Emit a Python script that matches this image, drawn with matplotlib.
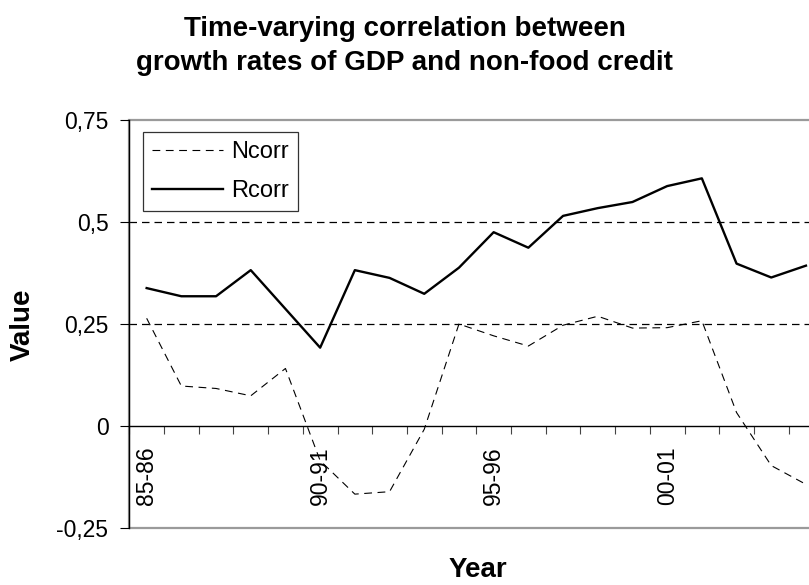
import numpy as np
import matplotlib
matplotlib.use("Agg")
import matplotlib.pyplot as plt
from matplotlib.patches import Rectangle

plt.rcParams['font.family'] = ['Liberation Sans', 'DejaVu Sans']

# fiscal years 85-86 .. 04-05
years = [f"{y % 100:02d}-{(y + 1) % 100:02d}" for y in range(1985, 2005)]

ncorr = [0.264, 0.098, 0.092, 0.074, 0.141, -0.085, -0.167, -0.161, -0.008, 0.250,
         0.221, 0.196, 0.247, 0.269, 0.240, 0.241, 0.258, 0.033, -0.097, -0.143]
rcorr = [0.338, 0.318, 0.318, 0.382, 0.287, 0.192, 0.382, 0.363, 0.324, 0.388,
         0.475, 0.437, 0.515, 0.534, 0.549, 0.588, 0.607, 0.398, 0.364, 0.393]

yticks = [-0.25, 0, 0.25, 0.5, 0.75]
ytick_labels = ['-0,25', '0', '0,25', '0,5', '0,75']

W, H = 809, 585
fig = plt.figure(figsize=(W / 100, H / 100), dpi=100)
# plot area runs a bit past the right edge of the figure
left, right, top, bottom = 129.3, 823.3, 120, 528
ax = fig.add_axes([left / W, 1 - bottom / H, (right - left) / W, (bottom - top) / H])

x = np.arange(len(years)) + 0.5
ax.plot(x, ncorr, color='black', lw=0.8, ls=(0, (7, 5)), label='Ncorr')
ax.plot(x, rcorr, color='black', lw=1.7, label='Rcorr')

ax.set_xlim(0, len(years))
ax.set_ylim(-0.25, 0.75)

# dashed gridlines
for g in [0.25, 0.5]:
    ax.axhline(g, color='black', lw=0.9, ls=(0, (6, 4)), zorder=0)

# gray plot-area border
ax.add_patch(Rectangle((0, 0), 1, 1, transform=ax.transAxes, fill=False,
                       edgecolor='#9a9a9a', lw=1.6, clip_on=False, zorder=1))
for s in ['top', 'right']:
    ax.spines[s].set_visible(False)
ax.spines['left'].set_color('black')
ax.spines['left'].set_linewidth(1.0)
ax.spines['left'].set_zorder(3)
ax.spines['bottom'].set_position(('data', 0))
ax.spines['bottom'].set_color('black')
ax.spines['bottom'].set_linewidth(1.0)

ax.set_yticks(yticks)
ax.set_yticklabels(ytick_labels, fontsize=16.5)
ax.tick_params(axis='y', direction='out', length=6.5, width=0.8, pad=8.5)

ax.set_xticks(np.arange(len(years) + 1))
ax.set_xticklabels([])
ax.tick_params(axis='x', which='major', direction='out', length=5.5, width=0.8,
               color='#444444')
ax.set_xticks(x[::5], minor=True)
ax.set_xticklabels(years[::5], minor=True, rotation=90, fontsize=16.5, va='top')
ax.tick_params(axis='x', which='minor', length=0, pad=15)

leg = ax.legend(loc='upper left', bbox_to_anchor=(0.0197, 0.9706), borderaxespad=0,
                fontsize=17, frameon=True, fancybox=False, edgecolor='black',
                handlelength=3.0, handletextpad=0.35, labelspacing=0.72,
                borderpad=0.38, markerfirst=True)
leg.get_frame().set_linewidth(0.9)
leg.set_zorder(5)

fig.text(0.5, 1 - 46 / H, "Time-varying correlation between\ngrowth rates of GDP and non-food credit",
         ha='center', va='center', fontsize=20, fontweight='bold', linespacing=1.42)
fig.text(23 / W, 1 - 325 / H, "Value", rotation=90, ha='center', va='center',
         fontsize=20, fontweight='bold')
fig.text(478 / W, 1 - 570 / H, "Year", ha='center', va='center',
         fontsize=20, fontweight='bold')

fig.savefig("out.png", dpi=100)
